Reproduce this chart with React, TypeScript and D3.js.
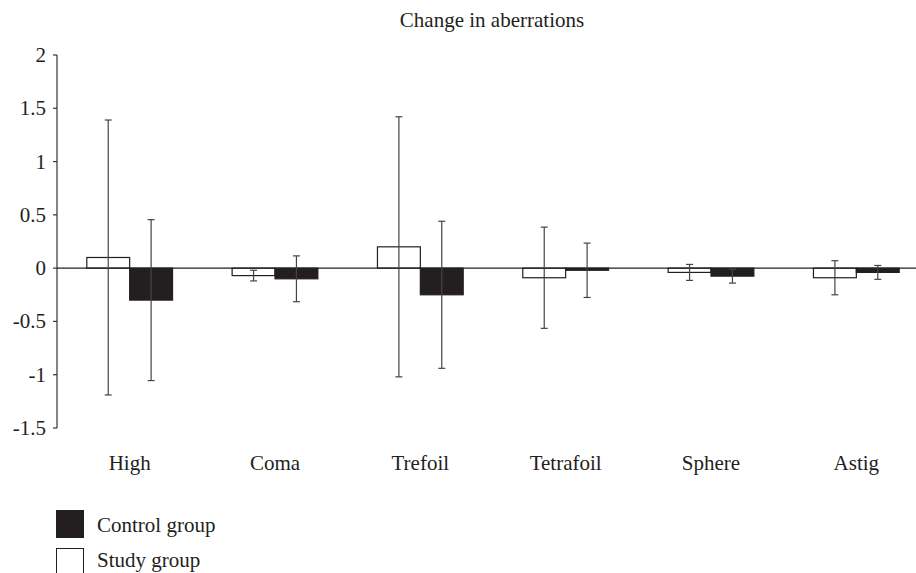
import React from 'react';
import * as d3 from 'd3';

const categories = ['High', 'Coma', 'Trefoil', 'Tetrafoil', 'Sphere', 'Astig'];
const studyMean = [0.1, -0.07, 0.2, -0.09, -0.04, -0.09];
const studySd = [1.29, 0.05, 1.22, 0.475, 0.075, 0.16];
const controlMean = [-0.3, -0.1, -0.25, -0.02, -0.075, -0.04];
const controlSd = [0.755, 0.215, 0.69, 0.255, 0.065, 0.065];
const yTicks = [2, 1.5, 1, 0.5, 0, -0.5, -1, -1.5];

const W = 916;
const H = 573;
const font = "'Liberation Serif', 'Times New Roman', serif";

export default function App() {
  const x = d3.scaleBand<string>().domain(categories).range([57, 929]).padding(0);
  const y = d3.scaleLinear().domain([-1.5, 2]).range([428, 55]);
  const bw = x.bandwidth() * 0.295;
  const cap = 3.5;

  const series = [
    { mean: studyMean, sd: studySd, fill: '#fff', off: -bw },
    { mean: controlMean, sd: controlSd, fill: '#231f20', off: 0 },
  ];

  return (
    <svg width={W} height={H} style={{ position: 'absolute', left: 0, top: 0, fontFamily: font }}>
      <text x={492} y={27} textAnchor="middle" fontSize={21} fill="#231f20">Change in aberrations</text>

      {/* y axis */}
      <line x1={57} x2={57} y1={y(2)} y2={y(-1.5)} stroke="#333" strokeWidth={1.2} />
      {yTicks.map(t => (
        <g key={t}>
          <line x1={53} x2={57} y1={y(t)} y2={y(t)} stroke="#333" strokeWidth={1.2} />
          <text x={46} y={y(t)} dy="0.33em" textAnchor="end" fontSize={21} fill="#231f20">
            {t < 0 ? '-' + Math.abs(t) : String(t)}
          </text>
        </g>
      ))}

      {series.map((s, si) =>
        categories.map((c, i) => {
          const cx = (x(c) as number) + x.bandwidth() / 2 + s.off;
          const v = s.mean[i];
          return (
            <rect key={si + c} x={cx} width={bw} y={Math.min(y(v), y(0))} height={Math.abs(y(v) - y(0))}
              fill={s.fill} stroke="#231f20" strokeWidth={1.2} />
          );
        })
      )}

      {/* zero line */}
      <line x1={57} x2={916} y1={y(0)} y2={y(0)} stroke="#231f20" strokeWidth={1.2} />

      {series.map((s, si) =>
        categories.map((c, i) => {
          const ex = (x(c) as number) + x.bandwidth() / 2 + s.off + bw / 2;
          const hi = y(s.mean[i] + s.sd[i]);
          const lo = y(s.mean[i] - s.sd[i]);
          return (
            <g key={'e' + si + c} stroke="#444" strokeWidth={1.2}>
              <line x1={ex} x2={ex} y1={hi} y2={lo} />
              <line x1={ex - cap} x2={ex + cap} y1={hi} y2={hi} />
              <line x1={ex - cap} x2={ex + cap} y1={lo} y2={lo} />
            </g>
          );
        })
      )}

      {categories.map(c => (
        <text key={c} x={(x(c) as number) + x.bandwidth() / 2} y={470} textAnchor="middle" fontSize={21} fill="#231f20">{c}</text>
      ))}

      {/* legend */}
      <rect x={56} y={510} width={28} height={28} fill="#231f20" />
      <text x={97} y={532} fontSize={21} fill="#231f20">Control group</text>
      <rect x={56.5} y={548.5} width={27} height={28} fill="#fff" stroke="#231f20" strokeWidth={1} />
      <text x={97} y={567} fontSize={21} fill="#231f20">Study group</text>
    </svg>
  );
}
